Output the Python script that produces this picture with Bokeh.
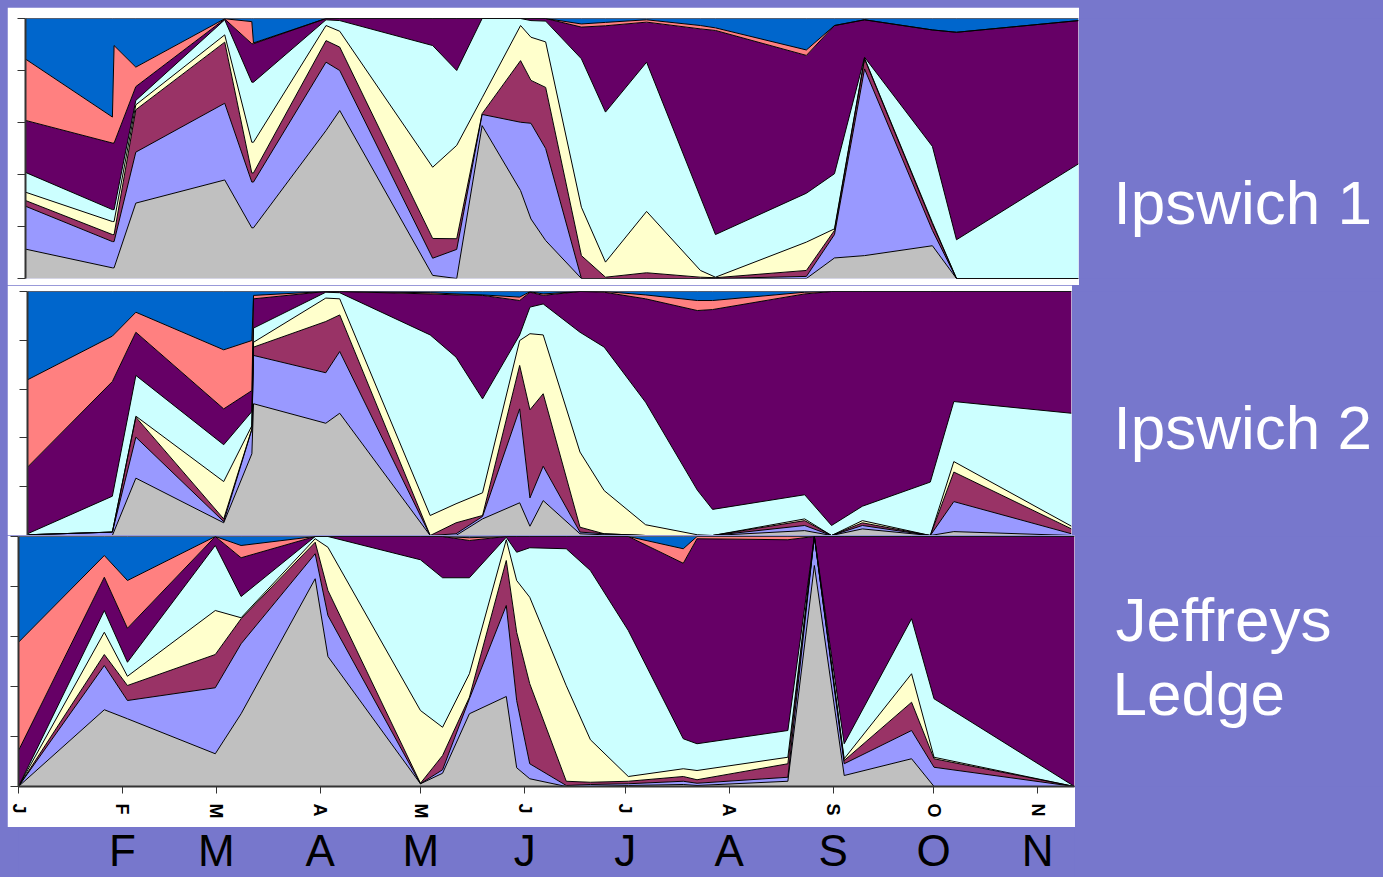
from bokeh.plotting import figure
from bokeh.layouts import row, column
from bokeh.models import ColumnDataSource, FixedTicker, Range1d, GlobalInlineStyleSheet
from bokeh.core.properties import value
from bokeh.embed import file_html
from bokeh.resources import INLINE

PAGE_BG = "#7777CC"
SERIES = ["gray", "lavender", "maroon", "cream", "aqua", "plum", "salmon", "blue"]
COLORS = ["#C0C0C0", "#9999FF", "#993366", "#FFFFCC", "#CCFFFF", "#660066", "#FF8080", "#0066CC"]

MONTH_DAY = [0, 31, 59, 90, 120, 151, 181, 212, 243, 273, 304]
MONTH_TICK_LABELS = ["J", "F", "M", "A", "M", "J", "J", "A", "S", "O", "N"]
MONTH_BIG_LABELS = ["F", "M", "A", "M", "J", "J", "A", "S", "O", "N"]
STATION_NAMES = ["Ipswich 1", "Ipswich 2", "Jeffreys", "Ledge"]
PCT_TICKS = [0, 20, 40, 60, 80, 100]

# ---- Ipswich 1 (sample day of year; percent of each group) ----
IP1_DAY = [0, 26.0, 26.5, 33.0, 59.6, 67.7, 68.2, 89.9, 94.0, 121.8, 129.0, 136.6, 148.1,
           151.2, 155.6, 166.3, 173.5, 185.8, 201.9, 206.4, 233.6, 242.0, 251.0, 271.3, 278.5, 315.0]
IP1_GRAY = [11.3, 4.1, 4.1, 29.0, 37.9, 19.5, 19.5, 56.9, 64.6, 1.2, 0, 58.8, 33.8,
            22.9, 14.6, 0, 0, 0, 0, 0, 0, 7.9, 8.8, 12.6, 0, 0]
IP1_LAV = [16.5, 10.1, 10.1, 19.6, 29.5, 17.6, 17.6, 26.3, 15.4, 6.6, 11.2, 4.3, 26.3,
           36.8, 35.4, 0, 0, 0, 0, 0, 0.8, 9.0, 71.8, 5.9, 0, 0]
IP1_MAROON = [2.2, 2.7, 2.7, 16.3, 23.5, 3.5, 3.5, 8.3, 9.0, 7.6, 4.1, 0.3, 23.7,
              16.5, 23.5, 8.8, 0.5, 2.2, 0.5, 0.3, 2.3, 1.6, 3.9, 2.5, 0, 0]
IP1_CREAM = [3.2, 5.0, 5.0, 1.9, 2.8, 11.8, 11.8, 5.8, 6.1, 27.4, 35.9, 6.1, 13.5,
             16.6, 17.5, 18.6, 5.8, 23.6, 2.6, 0.2, 10.9, 0.6, 0.2, 0.5, 0, 0]
IP1_AQUA = [7.6, 4.6, 4.6, 1.7, 5.8, 23.1, 23.1, 2.2, 4.1, 46.8, 28.8, 30.5, 2.7,
            6.4, 8.0, 57.1, 57.7, 57.4, 28.2, 16.4, 18.8, 21.2, 0.4, 29.3, 14.9, 44.1]
IP1_PLUM = [20.0, 25.6, 25.6, 5.3, 0.3, 14.8, 14.8, 0.5, 0.8, 10.4, 20.0, 0, 0,
            0.8, 1.0, 12.2, 33.2, 15.4, 64.7, 78.5, 53.0, 57.0, 14.4, 44.8, 79.8, 55.1]
IP1_SALMON = [23.6, 10.0, 37.5, 7.5, 0.1, 8.5, 0.3, 0, 0, 0, 0, 0, 0,
              0, 0, 1.2, 1.3, 0.9, 1.3, 1.0, 2.1, 0, 0, 0, 0, 0]
IP1_BLUE = [15.6, 37.9, 10.4, 18.7, 0.1, 1.2, 9.4, 0, 0, 0, 0, 0, 0,
            0, 0, 2.1, 1.5, 0.5, 2.7, 3.6, 12.1, 2.7, 0.5, 4.4, 5.3, 0.8]

# ---- Ipswich 2 ----
IP2_DAY = [0, 25.6, 32.7, 59.2, 67.7, 68.2, 90.0, 94.2, 121.5, 129.3, 137.3, 148.5, 151.6,
           155.6, 166.7, 174.0, 186.5, 202.1, 206.7, 234.5, 242.6, 251.9, 272.4, 279.5, 315.0]
IP2_GRAY = [0, 0, 23.5, 5.2, 33.5, 54.0, 46.0, 50.1, 0, 0, 6.8, 13.4, 3.8,
            14.3, 0.7, 0.3, 0, 0, 0, 2.0, 0, 2.7, 0, 1.6, 0]
IP2_LAV = [0.3, 1.4, 16.8, 0.5, 10.0, 19.8, 20.7, 25.3, 0, 0.7, 1.0, 38.5, 11.6,
           14.1, 0.7, 0.4, 0, 0, 0, 2.1, 0, 1.4, 0, 12.3, 0.7]
IP2_MAROON = [0, 0, 8.2, 1.1, 0.2, 3.4, 21.0, 15.0, 0, 4.5, 0.4, 17.8, 36.1,
              29.7, 2.0, 0, 0, 0, 0, 2.0, 0, 1.1, 0, 12.1, 2.0]
IP2_CREAM = [0, 0, 0.4, 15.3, 1.3, 2.0, 9.6, 6.6, 8.2, 7.8, 9.3, 10.2, 31.2,
             24.1, 30.8, 17.7, 4.4, 0.3, 0, 0.7, 0, 0.9, 0, 4.3, 1.1]
IP2_AQUA = [0.4, 14.7, 16.7, 15.1, 5.8, 5.8, 2.4, 2.5, 74.0, 60.1, 38.5, 2.3, 10.9,
            12.7, 49.1, 58.8, 50.2, 18.3, 10.7, 9.9, 4.1, 5.9, 21.9, 24.6, 46.3]
IP2_PLUM = [27.3, 47.0, 17.7, 14.7, 8.6, 12.0, 0.3, 0.5, 16.8, 25.5, 42.4, 14.1, 6.1,
            3.5, 16.7, 22.5, 42.4, 73.6, 81.9, 82.3, 95.9, 88.0, 78.1, 45.1, 49.9]
IP2_SALMON = [35.8, 18.6, 8.2, 24.2, 20.5, 1.4, 0, 0, 0.5, 0.4, 0.2, 1.4, 0.2,
              0.6, 0, 0.3, 1.6, 4.1, 3.7, 0.7, 0, 0, 0, 0, 0]
IP2_BLUE = [36.2, 18.3, 8.5, 23.9, 20.1, 1.6, 0, 0, 0.5, 1.0, 1.4, 2.3, 0.1,
            1.0, 0, 0, 1.4, 3.7, 3.7, 0.3, 0, 0, 0, 0, 0]

# ---- Jeffreys Ledge ----
JL_DAY = [0, 25.6, 32.5, 58.7, 66.4, 88.5, 92.3, 119.9, 126.5, 134.5, 145.5, 148.6,
          152.5, 163.4, 170.6, 181.9, 198.3, 202.4, 229.5, 237.4, 246.3, 266.4, 273.1, 315.0]
JL_GRAY = [0, 30.7, 27.1, 13.1, 29.1, 83.1, 52.0, 1.1, 5.3, 29.1, 36.0, 7.5,
           3.1, 0, 0, 0.4, 0.8, 0.4, 2.1, 88.4, 4.4, 11.1, 0, 0]
JL_LAV = [0, 17.7, 7.3, 26.4, 28.0, 10.0, 16.4, 0, 1.4, 6.0, 36.4, 26.9,
          6.0, 0.4, 0.8, 0.7, 1.3, 0.9, 1.6, 11.6, 4.7, 11.3, 7.7, 0]
JL_MAROON = [0, 4.4, 6.0, 13.3, 10.0, 4.6, 10.0, 0.2, 5.7, 0.6, 18.0, 27.3,
             32.0, 1.7, 0.9, 1.0, 1.9, 1.4, 5.4, 0, 1.3, 11.3, 3.4, 0]
JL_CREAM = [0, 8.9, 3.7, 17.6, 0.4, 1.4, 17.3, 29.1, 11.3, 9.4, 8.3, 20.7,
            34.6, 38.2, 17.0, 1.9, 3.1, 3.7, 2.6, 0, 0.7, 11.4, 0.6, 0]
JL_AQUA = [0, 8.7, 5.6, 26.0, 8.5, 0.9, 4.3, 60.3, 59.8, 38.4, 1.0, 11.3,
           19.8, 54.8, 67.7, 58.4, 12.0, 10.7, 10.7, 0, 6.0, 22.0, 23.4, 0]
JL_PLUM = [14.4, 13.3, 13.6, 3.6, 15.5, 0, 0, 9.3, 16.5, 14.9, 0.3, 6.3,
           4.5, 4.9, 13.6, 37.6, 70.2, 82.0, 76.3, 0, 82.9, 32.9, 64.9, 100]
JL_SALMON = [43.3, 8.7, 19.1, 0, 4.9, 0, 0, 0, 0, 1.1, 0, 0,
             0, 0, 0, 0, 5.8, 0.9, 1.3, 0, 0, 0, 0, 0]
JL_BLUE = [42.3, 7.6, 17.6, 0, 3.6, 0, 0, 0, 0, 0.5, 0, 0,
           0, 0, 0, 0, 4.9, 0, 0, 0, 0, 0, 0, 0]


def style_plain(p, fill):
    p.background_fill_color = fill
    p.border_fill_color = fill
    p.outline_line_color = None
    p.grid.visible = False
    p.xgrid.visible = False
    p.ygrid.visible = False


def stacked_panel(days, columns, width, height, borders, margin, x_axis):
    top, right, bottom, left = borders
    totals = [sum(v) for v in zip(*columns)]
    data = {"day": list(days)}
    for name, vals in zip(SERIES, columns):
        data[name] = [100.0 * v / t for v, t in zip(vals, totals)]
    src = ColumnDataSource(data)
    p = figure(width=width, height=height, x_range=Range1d(0, 315), y_range=Range1d(0, 100),
               output_backend="svg", toolbar_location=None, title=None,
               x_axis_location="below" if x_axis else None,
               min_border_top=top, min_border_right=right,
               min_border_bottom=bottom, min_border_left=left, margin=margin)
    style_plain(p, "white")
    p.varea_stack(stackers=SERIES, x="day", color=COLORS, source=src)
    p.vline_stack(stackers=SERIES, x="day", line_color="black", line_width=1, source=src)

    yax = p.yaxis[0]
    yax.ticker = FixedTicker(ticks=PCT_TICKS)
    yax.major_label_overrides = {t: "" for t in PCT_TICKS}
    yax.major_label_standoff = 0
    yax.major_tick_out = 8
    yax.major_tick_in = 0
    yax.minor_tick_out = 0
    yax.minor_tick_in = 0
    yax.axis_line_width = 2
    yax.axis_line_color = "#333333"
    yax.major_tick_line_color = "#333333"

    if x_axis:
        xax = p.xaxis[0]
        xax.ticker = FixedTicker(ticks=MONTH_DAY)
        xax.major_label_overrides = {d: lab for d, lab in zip(MONTH_DAY, MONTH_TICK_LABELS)}
        xax.major_label_orientation = "vertical"
        xax.major_label_text_font = "Liberation Sans"
        xax.major_label_text_font_style = "bold"
        xax.major_label_text_font_size = "18px"
        xax.major_label_text_color = "black"
        xax.major_label_standoff = 10
        xax.major_tick_out = 7
        xax.major_tick_in = 0
        xax.minor_tick_out = 0
        xax.minor_tick_in = 0
        xax.axis_line_width = 2
        xax.axis_line_color = "#333333"
        xax.major_tick_line_color = "#333333"
    return p


def label_panel(width, height, borders, margin, texts, xs, ys):
    # same borders as the neighbouring chart, so the frames line up; ranges in frame pixels
    top, bottom_b = borders
    frame_h = height - top - bottom_b
    p = figure(width=width, height=height, x_range=Range1d(0, width), y_range=Range1d(0, frame_h),
               x_axis_location=None, y_axis_location=None, toolbar_location=None,
               output_backend="svg", title=None, min_border_left=0, min_border_right=0,
               min_border_top=top, min_border_bottom=bottom_b, margin=margin)
    style_plain(p, PAGE_BG)
    src = ColumnDataSource(dict(x=xs, y=ys, text=texts))
    p.text(x="x", y="y", text="text", source=src, text_color="white",
           text_font=value("Liberation Sans"), text_font_size="62px",
           text_baseline="alphabetic", text_align="left")
    return p


fig1 = stacked_panel(IP1_DAY, [IP1_GRAY, IP1_LAV, IP1_MAROON, IP1_CREAM, IP1_AQUA, IP1_PLUM,
                               IP1_SALMON, IP1_BLUE],
                     1072, 278, (11, 1, 7, 18), (7, 0, 0, 7), False)
fig2 = stacked_panel(IP2_DAY, [IP2_GRAY, IP2_LAV, IP2_MAROON, IP2_CREAM, IP2_AQUA, IP2_PLUM,
                               IP2_SALMON, IP2_BLUE],
                     1065, 250, (6, 1, 0, 20), (0, 0, 0, 7), False)
fig3 = stacked_panel(JL_DAY, [JL_GRAY, JL_LAV, JL_MAROON, JL_CREAM, JL_AQUA, JL_PLUM,
                              JL_SALMON, JL_BLUE],
                     1068, 292, (1, 1, 41, 11), (0, 0, 0, 7), True)

lab1 = label_panel(304, 278, (11, 7), (7, 0, 0, 0), [STATION_NAMES[0]], [34], [76])
lab2 = label_panel(311, 250, (6, 0), (0, 0, 0, 0), [STATION_NAMES[1]], [41], [108])
lab3 = label_panel(308, 292, (1, 41), (0, 0, 0, 0), [STATION_NAMES[2], STATION_NAMES[3]],
                   [40, 37], [167, 93])

bottom = figure(width=1383, height=50, x_range=Range1d(0, 315), y_range=Range1d(0, 50),
                x_axis_location=None, y_axis_location=None, toolbar_location=None,
                output_backend="svg", title=None, min_border_top=0, min_border_bottom=0,
                min_border_left=18, min_border_right=309)
style_plain(bottom, PAGE_BG)
big_src = ColumnDataSource(dict(x=MONTH_DAY[1:], y=[27] * len(MONTH_BIG_LABELS),
                                text=MONTH_BIG_LABELS))
bottom.text(x="x", y="y", text="text", source=big_src, text_color="black",
            text_font=value("Liberation Sans"), text_font_size="44px",
            text_align="center", text_baseline="alphabetic")

page_css = GlobalInlineStyleSheet(css="html, body { margin: 0; padding: 0; background: #7777CC; overflow: hidden; }")

layout = column(row(fig1, lab1), row(fig2, lab2), row(fig3, lab3), bottom,
                stylesheets=[page_css])

open("out.html", "w").write(file_html(layout, INLINE))
